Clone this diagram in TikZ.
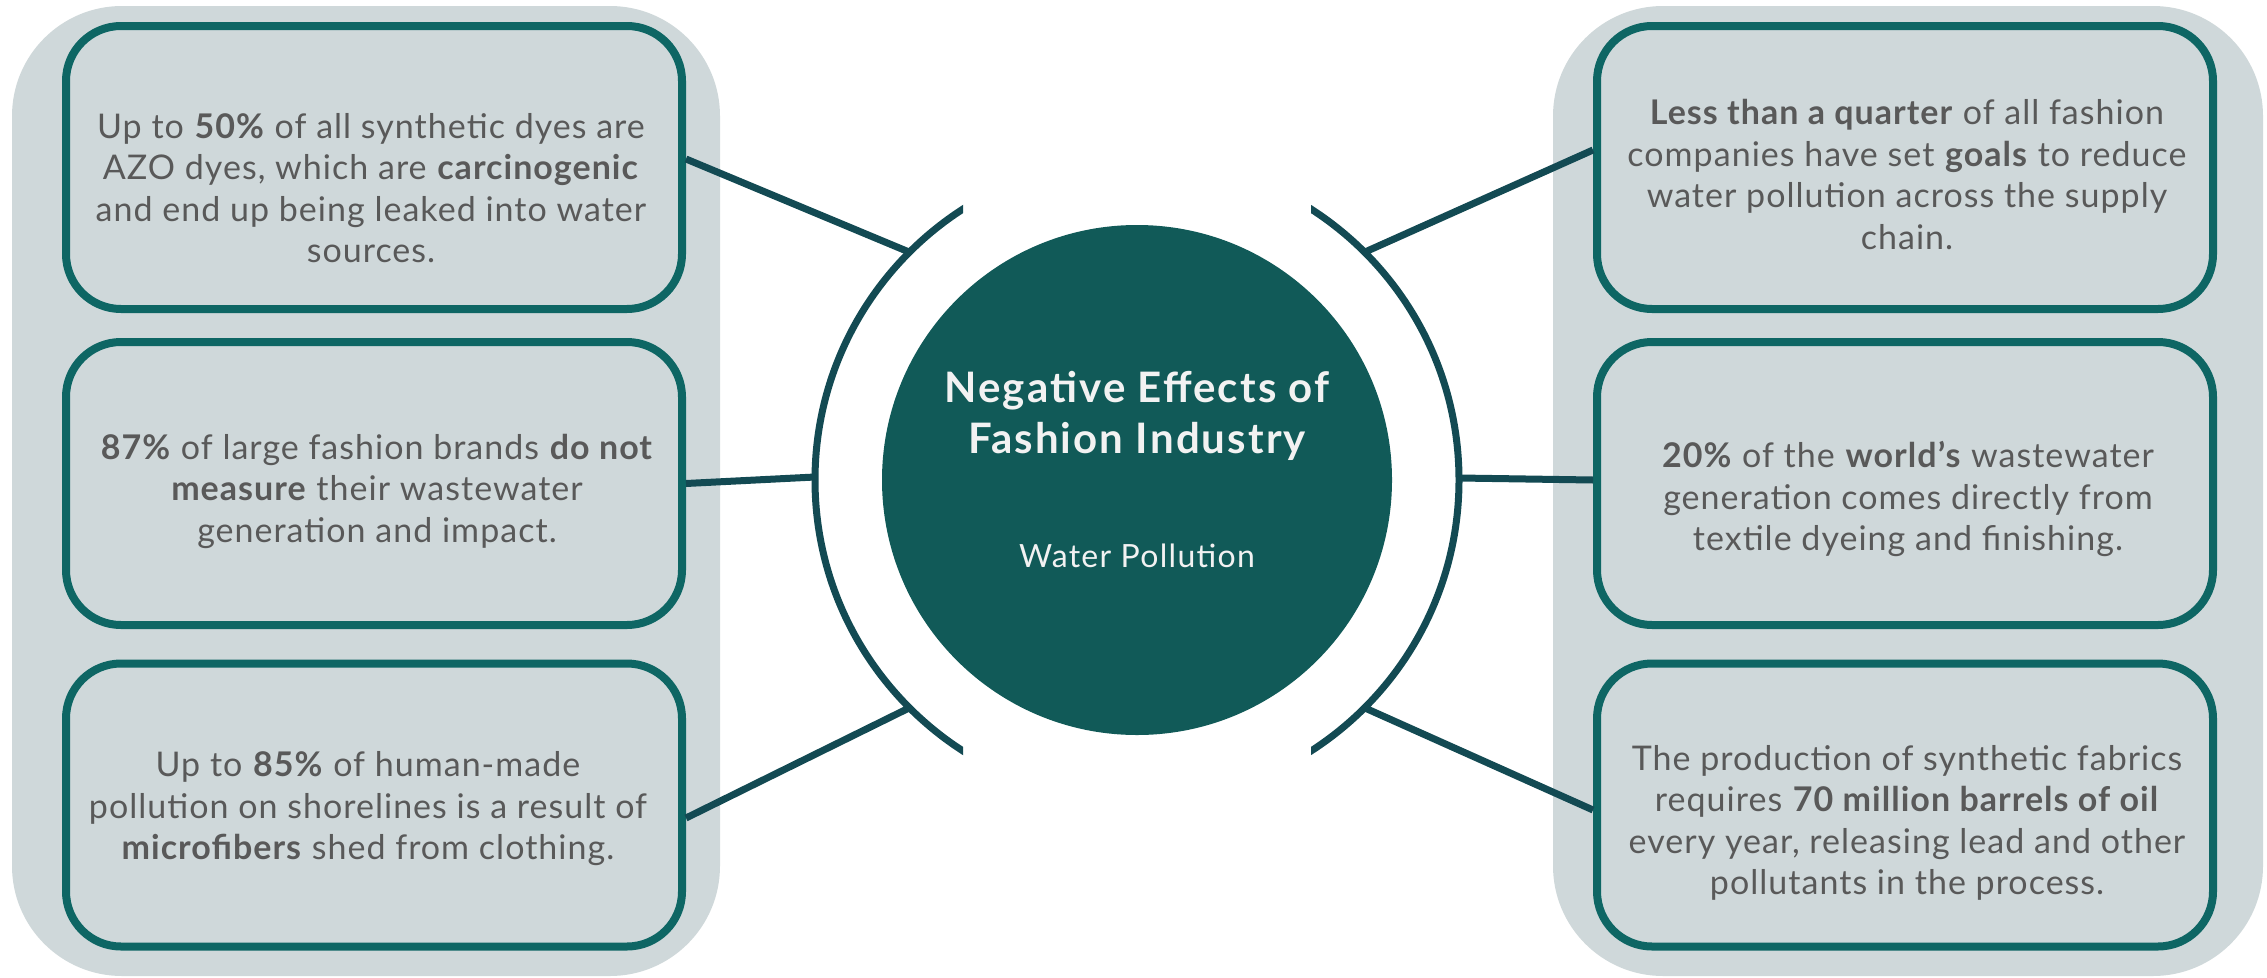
\documentclass[tikz,border=0pt]{standalone}
\usepackage{fontspec}
\setmainfont{Lato}[LetterSpace=3]

\definecolor{panelfill}{HTML}{CFD8DA}
\definecolor{boxborder}{HTML}{0E6664}
\definecolor{connline}{HTML}{134A53}
\definecolor{hubfill}{HTML}{115A58}
\definecolor{textgrey}{HTML}{595959}
\definecolor{hubtext}{HTML}{F2F2F2}

\begin{document}
\begin{tikzpicture}[x=1pt,y=-1pt,
  panel/.style={fill=panelfill, rounded corners=110pt},
  factbox/.style={draw=boxborder, line width=8pt, fill=panelfill,
    rounded corners=55pt, minimum width=616pt, minimum height=283pt, inner sep=0pt},
  facttext/.style={text=textgrey, align=center,
    font=\fontsize{34}{41.5}\selectfont, inner sep=0pt},
  conn/.style={draw=connline, line width=7pt},
  ring/.style={draw=connline, line width=7pt},
  hubtitle/.style={anchor=base, text=hubtext, inner sep=0pt,
    font=\bfseries\fontsize{42}{51}\selectfont\addfontfeatures{LetterSpace=5}},
  hubsub/.style={anchor=base, text=hubtext, inner sep=0pt,
    font=\fontsize{32}{38}\selectfont\addfontfeatures{LetterSpace=4}},
]
\useasboundingbox (0,0) rectangle (2267,977);

% side panels
\fill[panel] (12,6) rectangle (720,976);
\fill[panel] (1553,6) rectangle (2263,976);

% fact boxes
\node[factbox] (L1) at (374,167.5) {};
\node[factbox] (L2) at (374,483.5) {};
\node[factbox] (L3) at (374,805) {};
\node[factbox] (R1) at (1905,167.5) {};
\node[factbox] (R2) at (1905,483.5) {};
\node[factbox] (R3) at (1905,805) {};

% fact texts
\node[facttext] (L1t) at (371,188) {Up to \textbf{50\%} of all synthetic dyes are\\AZO dyes, which are \textbf{carcinogenic}\\and end up being leaked into water\\sources.};
\node[facttext] (L2t) at (377,491) {\textbf{87\%} of large fashion brands \textbf{do not}\\\textbf{measure} their wastewater\\generation and impact.};
\node[facttext] (L3t) at (368,809) {Up to \textbf{85\%} of human-made\\pollution on shorelines is a result of\\\textbf{microfibers} shed from clothing.};
\node[facttext] (R1t) at (1907,174.5) {\textbf{Less than a quarter} of all fashion\\companies have set \textbf{goals} to reduce\\water pollution across the supply\\chain.};
\node[facttext] (R2t) at (1908,499) {\textbf{20\%} of the \textbf{world’s} wastewater\\generation comes directly from\\textile dyeing and finishing.};
\node[facttext] (R3t) at (1907,823) {The production of synthetic fabrics\\requires \textbf{70 million barrels of oil}\\every year, releasing lead and other\\pollutants in the process.};

% central hub
\node[circle, fill=hubfill, minimum size=510pt, inner sep=0pt] (hub) at (1137,480) {};
\node[hubtitle] (title1) at (1137,402) {Negative Effects of};
\node[hubtitle] (title2) at (1137,453) {Fashion Industry};
\node[hubsub] (sub) at (1137,567) {Water Pollution};

% open ring around the hub, cut square at both ends
\begin{scope}
  \clip (0,0) rectangle (963,977);
  \draw[ring] (hub.center) circle[radius=322];
\end{scope}
\begin{scope}
  \clip (1311,0) rectangle (2267,977);
  \draw[ring] (hub.center) circle[radius=322];
\end{scope}

% points where the connectors meet the ring
\coordinate (aL1) at (909,252);
\coordinate (aL2) at (815,477);
\coordinate (aL3) at (909,708);
\coordinate (aR1) at (1365,252);
\coordinate (aR2) at (1459,478);
\coordinate (aR3) at (1365,708);

% connectors
\draw[conn] ([yshift=8.5pt]L1.east) -- (aL1);
\draw[conn] (L2.east) -- (aL2);
\draw[conn] ([yshift=-13pt]L3.east) -- (aL3);
\draw[conn] ([yshift=17.5pt]R1.west) -- (aR1);
\draw[conn] ([yshift=3.5pt]R2.west) -- (aR2);
\draw[conn] ([yshift=-5pt]R3.west) -- (aR3);
\end{tikzpicture}
\end{document}
